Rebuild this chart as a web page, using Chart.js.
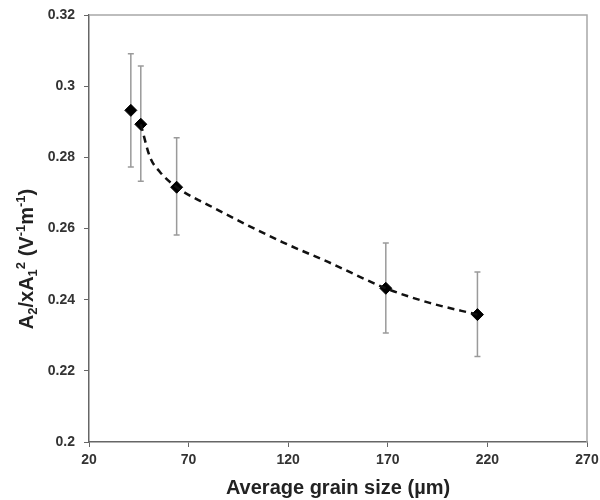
<!DOCTYPE html>
<html>
<head>
<meta charset="utf-8">
<script src="https://cdn.jsdelivr.net/npm/chart.js@4/dist/chart.umd.min.js"></script>
<style>
  html, body { margin: 0; padding: 0; background: #fff; }
  #wrap { width: 600px; height: 500px; }
</style>
</head>
<body>
<div id="wrap"><canvas id="chart" width="600" height="500"></canvas></div>
<script>
// measured grain sizes (µm) and A2/xA1^2 values
const grainSize = [41, 46, 64, 169, 215];
const ratio = [0.2932, 0.2893, 0.2716, 0.2432, 0.2358];
const errHigh = [0.3091, 0.3057, 0.2855, 0.2559, 0.2478];
const errLow = [0.2773, 0.2733, 0.2582, 0.2306, 0.2240];

// dashed trend line
const trendX = [46, 50.6, 55.6, 64, 82, 117, 140, 169, 191, 215];
const trendY = [0.2893, 0.2801, 0.2759, 0.2716, 0.2660, 0.2562, 0.2506, 0.2432, 0.2391, 0.2358];

const xTicks = [20, 70, 120, 170, 220, 270];
const yTicks = [0.2, 0.22, 0.24, 0.26, 0.28, 0.3, 0.32];

const fontFamily = 'Liberation Sans, Arial, sans-serif';
const tickFont = { family: fontFamily, size: 14, weight: 'bold' };
const titleFont = { family: fontFamily, size: 20, weight: 'bold' };

// y title pieces: [text, 0 = normal, -1 = subscript, 1 = superscript]
const yTitleParts = [
  ['A', 0], ['2', -1], ['/xA', 0], ['1', -1], ['2', 1],
  [' (V', 0], ['-1', 1], ['m', 0], ['-1', 1], [')', 0],
];

const errorBars = {
  id: 'errorBars',
  beforeDatasetsDraw(chart) {
    const { ctx, scales } = chart;
    ctx.save();
    ctx.strokeStyle = '#9a9a9a';
    ctx.lineWidth = 1.5;
    grainSize.forEach((g, i) => {
      const x = scales.x.getPixelForValue(g);
      const top = scales.y.getPixelForValue(errHigh[i]);
      const bot = scales.y.getPixelForValue(errLow[i]);
      ctx.beginPath();
      ctx.moveTo(x, top);
      ctx.lineTo(x, bot);
      ctx.moveTo(x - 3, top);
      ctx.lineTo(x + 3, top);
      ctx.moveTo(x - 3, bot);
      ctx.lineTo(x + 3, bot);
      ctx.stroke();
    });
    ctx.restore();
  },
};

const frame = {
  id: 'frame',
  afterDraw(chart) {
    const { ctx, chartArea } = chart;
    ctx.save();
    ctx.strokeStyle = '#a8a8a8';
    ctx.lineWidth = 1.5;
    ctx.beginPath();
    ctx.moveTo(chartArea.left, chartArea.top);
    ctx.lineTo(chartArea.right, chartArea.top);
    ctx.lineTo(chartArea.right, chartArea.bottom);
    ctx.stroke();
    ctx.restore();
  },
};

const yTitle = {
  id: 'yTitle',
  afterDraw(chart) {
    const { ctx } = chart;
    const big = `bold 20px ${fontFamily}`;
    const small = `bold 13px ${fontFamily}`;
    ctx.save();
    ctx.fillStyle = '#222';
    ctx.textBaseline = 'alphabetic';
    let total = 0;
    yTitleParts.forEach(([t, k]) => {
      ctx.font = k === 0 ? big : small;
      total += ctx.measureText(t).width;
    });
    ctx.translate(33, 259);
    ctx.rotate(-Math.PI / 2);
    let x = -total / 2;
    yTitleParts.forEach(([t, k]) => {
      ctx.font = k === 0 ? big : small;
      const dy = k === -1 ? 4 : k === 1 ? -8 : 0;
      ctx.fillText(t, x, dy);
      x += ctx.measureText(t).width;
    });
    ctx.restore();
  },
};

new Chart(document.getElementById('chart'), {
  type: 'scatter',
  data: {
    datasets: [
      {
        label: 'trend',
        data: trendX.map((x, i) => ({ x, y: trendY[i] })),
        showLine: true,
        borderColor: '#111',
        borderWidth: 2.5,
        borderDash: [7, 5],
        cubicInterpolationMode: 'monotone',
        pointRadius: 0,
      },
      {
        label: 'data',
        data: grainSize.map((x, i) => ({ x, y: ratio[i] })),
        pointStyle: 'rectRot',
        pointRadius: 6,
        backgroundColor: '#000',
        borderColor: '#000',
      },
    ],
  },
  plugins: [errorBars, frame, yTitle],
  options: {
    responsive: false,
    animation: false,
    layout: { padding: { top: 15, right: 13, left: 0, bottom: 0 } },
    plugins: { legend: { display: false }, tooltip: { enabled: false } },
    scales: {
      x: {
        type: 'linear',
        min: 20,
        max: 270,
        afterBuildTicks: (s) => { s.ticks = xTicks.map((v) => ({ value: v })); },
        afterFit: (s) => { s.height = 58; s.paddingLeft = 0; s.paddingRight = 0; },
        grid: { drawOnChartArea: false, drawTicks: true, tickLength: 5, color: '#666' },
        border: { color: '#666', width: 1.5 },
        ticks: { color: '#333', font: tickFont, padding: 5, maxRotation: 0 },
        title: { display: true, text: 'Average grain size (µm)', color: '#222', font: titleFont, padding: { top: 0, bottom: 0 } },
      },
      y: {
        type: 'linear',
        min: 0.2,
        max: 0.32,
        afterBuildTicks: (s) => { s.ticks = yTicks.map((v) => ({ value: v })); },
        afterFit: (s) => { s.width = 89; s.paddingTop = 0; s.paddingBottom = 0; },
        grid: { drawOnChartArea: false, drawTicks: true, tickLength: 5, color: '#666' },
        border: { color: '#666', width: 1.5 },
        ticks: { color: '#333', font: tickFont, padding: 9, callback: (v) => String(Number(v.toFixed(2))) },
        title: { display: false },
      },
    },
  },
});
</script>
</body>
</html>
